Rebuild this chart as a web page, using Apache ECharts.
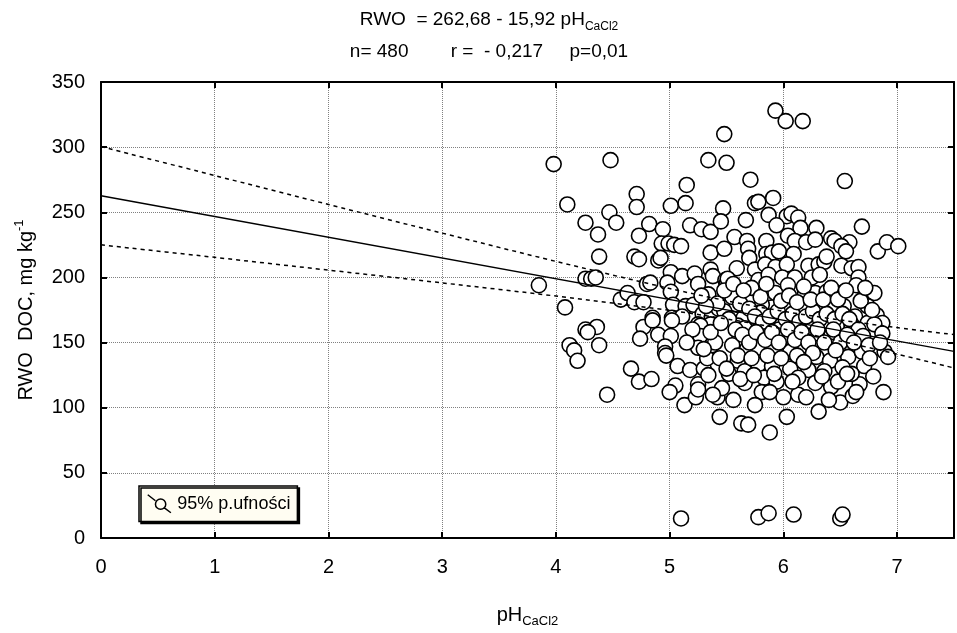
<!DOCTYPE html>
<html>
<head>
<meta charset="utf-8">
<script src="https://cdn.jsdelivr.net/npm/echarts@6/dist/echarts.min.js"></script>
<style>
  html, body { margin: 0; padding: 0; background: #fff; }
  #chart { width: 957px; height: 633px; }
</style>
</head>
<body>
<div id="chart"></div>
<script>
// pH (CaCl2) of each sample
const phValues = [
  3.98, 4.48, 5.34, 5.48, 5.50, 5.15, 4.10, 4.71, 4.71, 5.01, 5.14, 5.47, 4.47, 4.26, 4.53, 4.37, 4.82, 4.94, 4.73, 5.18,
  5.28, 5.36, 5.45, 4.93, 4.99, 5.04, 5.10, 5.36, 5.48, 4.38, 4.69, 4.73, 4.90, 4.92, 4.26, 4.31, 4.35, 3.85, 4.80, 4.83,
  5.01, 5.11, 5.22, 5.36, 5.38, 5.49, 4.98, 5.01, 5.25, 5.34, 4.08, 4.57, 4.63, 4.69, 4.77, 5.03, 5.14, 5.21, 5.29, 5.37,
  5.43, 4.85, 5.02, 5.11, 4.26, 4.36, 4.77, 5.25, 5.36,
  4.28, 4.12, 4.16, 4.19, 4.38, 4.45, 4.66, 4.73, 4.84, 4.74, 4.90, 5.01, 4.96, 4.96, 4.97, 5.07, 5.05, 5.00, 5.13, 5.18,
  5.25, 5.23, 5.25, 5.30, 5.33, 5.27, 5.27, 5.25, 5.37, 5.44, 5.42, 5.44, 5.46, 5.10, 5.02, 4.85,
  5.93, 6.02, 6.17, 5.71, 6.54, 5.75, 5.78, 5.91, 5.67, 5.87, 6.03, 6.07, 6.13, 5.94, 6.15, 6.29, 6.69, 5.57, 5.68, 5.85,
  6.04, 6.10, 6.20, 6.28, 6.42, 6.45, 6.58, 6.51, 6.55, 6.83, 6.91, 7.01, 5.69, 5.70, 5.85, 5.90, 5.96, 6.09, 5.59, 5.75,
  5.84, 5.93, 6.03, 6.22, 6.31, 6.36, 6.38, 6.51, 6.60, 6.66, 6.66, 6.64, 6.80, 5.50, 5.51, 5.78, 5.87, 5.99, 6.10, 6.25,
  6.32, 5.72, 5.87, 5.93, 6.04, 6.19, 6.28, 6.38, 6.48, 6.53, 6.63, 6.74, 6.82, 6.87, 5.59, 5.81, 6.04, 6.17, 6.34, 6.44,
  5.48, 5.65, 5.80, 6.25, 6.39, 6.60, 6.74,
  5.60, 5.66, 5.80, 5.96, 6.11, 6.28, 6.42, 6.60, 6.80, 6.87, 6.89, 6.92, 5.61, 5.55, 5.68, 5.78, 5.90, 6.01, 6.06, 6.19,
  6.29, 6.41, 6.57, 6.69, 5.60, 5.78, 5.90, 6.06, 6.22, 6.52, 6.71, 5.52, 5.66, 5.83, 5.94, 6.13, 6.28, 6.42, 6.67, 6.79,
  6.88, 5.66, 5.81, 6.00, 6.13, 6.20, 6.50, 6.61, 5.75, 5.63, 5.69, 5.88, 6.03, 6.31, 5.78, 5.87, 6.09, 6.50, 6.52,
  5.55, 5.62, 5.70, 5.75, 5.82, 5.88, 5.95, 6.02, 6.08, 6.14, 6.20, 6.26, 6.32, 6.38, 6.45, 6.52, 6.58, 6.66, 6.70, 5.52,
  5.58, 5.64, 5.70, 5.76, 5.84, 5.90, 5.96, 6.04, 6.10, 6.16, 6.22, 6.30, 6.36, 6.44, 6.50, 6.56, 6.62, 6.75, 6.85, 5.40,
  5.36, 5.45, 5.42, 5.48, 5.56, 5.65, 5.80, 5.85, 5.98, 6.05, 6.12, 6.18, 6.24, 6.35, 6.42, 6.48, 6.55, 6.68, 6.72, 6.78,
  5.60, 5.72, 5.86, 5.98, 6.12, 6.26, 6.36, 6.46, 6.60, 6.76, 5.50, 5.62, 5.74, 5.92, 6.08, 6.18, 6.34, 6.48, 6.64, 5.30,
  5.34, 5.38, 5.56, 5.88, 6.40, 6.56, 5.20, 5.15, 5.32, 5.28
];
// RWO DOC, mg/kg, same order as phValues
const docValues = [
  287, 290, 290, 310, 288, 271, 256, 264, 254, 255, 257, 253, 250, 242, 242, 233, 241, 237, 232, 240,
  237, 235, 243, 226, 226, 225, 224, 219, 222, 216, 216, 214, 213, 215, 199, 199, 200, 194, 195, 196,
  204, 201, 203, 206, 201, 198, 196, 189, 195, 187, 177, 183, 188, 181, 181, 179, 178, 179, 172, 170,
  176, 169, 169, 170, 160, 162, 162, 164, 164,
  158, 148, 144, 136, 148, 110, 130, 120, 122, 153, 156, 155, 147, 142, 140, 132, 117, 112, 102, 129,
  118, 108, 114, 130, 138, 163, 155, 146, 148, 138, 108, 93, 115, 15, 167, 167,
  328, 320, 320, 275, 274, 257, 258, 261, 244, 248, 247, 249, 246, 240, 238, 238, 239, 231, 228, 228,
  232, 228, 227, 229, 230, 228, 227, 224, 220, 220, 227, 224, 222, 215, 218, 219, 220, 218, 207, 206,
  210, 208, 210, 209, 210, 212, 216, 209, 207, 208, 200, 194, 188, 195, 199, 198, 202, 200, 200, 200,
  202, 192, 188, 188, 194, 188, 188, 189, 188, 178, 170, 178, 171, 165, 179, 179, 178, 179, 178, 178,
  174, 169, 173, 166, 166, 164, 165,
  163, 161, 163, 160, 164, 157, 155, 162, 164, 157, 143, 139, 152, 148, 145, 146, 144, 154, 143, 148,
  139, 136, 139, 143, 136, 133, 132, 130, 129, 131, 132, 126, 128, 123, 120, 123, 119, 116, 118, 124,
  112, 119, 112, 108, 110, 108, 104, 109, 102, 88, 87, 81, 93, 97, 16, 19, 18, 15, 18,
  185, 180, 176, 170, 166, 170, 174, 168, 172, 166, 170, 174, 168, 172, 168, 172, 168, 160, 155, 168,
  160, 156, 150, 158, 152, 158, 150, 160, 152, 158, 150, 160, 150, 160, 150, 156, 150, 148, 150, 150,
  158, 165, 180, 190, 195, 190, 185, 195, 182, 186, 181, 193, 183, 183, 192, 183, 190, 182, 192, 175,
  140, 138, 140, 138, 140, 142, 128, 144, 126, 138, 130, 122, 125, 126, 120, 135, 124, 120, 112, 145,
  125, 110, 106, 112, 106, 126, 160, 150, 178, 186
];

// fitted line RWO = 262,68 - 15,92 pH
const fitPh = [0, 7.5];
const fitDoc = [262.68, 143.28];

// 95% confidence band
const bandPh = [0, 1, 2, 3, 4, 5, 5.5, 6, 6.5, 7, 7.5];
const bandUpper = [300.4, 278.2, 256.0, 234.0, 212.3, 191.5, 182.1, 174.0, 167.3, 161.5, 156.1];
const bandLower = [225.0, 215.4, 205.6, 195.8, 185.7, 174.7, 168.1, 160.4, 151.1, 141.1, 130.5];

const xTicks = [0, 1, 2, 3, 4, 5, 6, 7];

const font = "'Liberation Sans', Arial, sans-serif";

const pairs = (xs, ys) => xs.map((x, i) => [x, ys[i]]);

const chart = echarts.init(document.getElementById('chart'));

const axisLine = { onZero: false, lineStyle: { color: '#000', width: 2 } };
const axisTick = { inside: true, length: 6, lineStyle: { color: '#000', width: 2 } };
const gridLine = { show: true, lineStyle: { type: 'dotted', color: '#808080', width: 1 } };

const option = {
  backgroundColor: '#fff',
  animation: false,
  title: [
    {
      text: '{a|RWO  = 262,68 - 15,92 pH}{s|CaCl2}',
      left: 484,
      top: 2,
      textAlign: 'center',
      textStyle: {
        rich: {
          a: { fontFamily: font, fontSize: 19, fontWeight: 'normal', color: '#000', lineHeight: 26 },
          s: { fontFamily: font, fontSize: 12, fontWeight: 'normal', color: '#000', lineHeight: 13, verticalAlign: 'bottom' }
        }
      }
    },
    {
      text: 'n= 480        r =  - 0,217     p=0,01',
      left: 484,
      top: 37,
      textAlign: 'center',
      textStyle: { fontFamily: font, fontSize: 19, fontWeight: 'normal', color: '#000' }
    }
  ],
  legend: {
    left: 139,
    top: 486,
    padding: [8, 7, 8, 8],
    backgroundColor: '#fffdf2',
    borderColor: '#000',
    borderWidth: 1.5,
    shadowColor: '#000',
    shadowBlur: 0,
    shadowOffsetX: 2,
    shadowOffsetY: 2,
    itemWidth: 26,
    itemHeight: 18,
    itemGap: 4,
    textStyle: { fontFamily: font, fontSize: 18, color: '#000' },
    data: [{
      name: '95% p.ufności',
      icon: 'path://M0,0 L9,7 M9,11 A6,6 0 1,0 21,11 A6,6 0 1,0 9,11 M19,15 L27,21',
      itemStyle: { color: 'rgba(0,0,0,0)', borderColor: '#000', borderWidth: 1.5 }
    }]
  },
  grid: { left: 101, right: 1, top: 82, bottom: 84 },
  xAxis: [
    {
      type: 'value', min: 0, max: 7.5, interval: 1, position: 'bottom',
      axisLine, axisTick,
      axisLabel: {
        color: '#000', fontFamily: font, fontSize: 20, margin: 19,
        formatter: v => (xTicks.includes(v) ? String(v) : '')
      },
      splitLine: gridLine,
      name: '{a|pH}{s|CaCl2}',
      nameLocation: 'middle',
      nameGap: 64,
      nameTextStyle: {
        rich: {
          a: { fontFamily: font, fontSize: 20, color: '#000', lineHeight: 26 },
          s: { fontFamily: font, fontSize: 13, color: '#000', lineHeight: 14, verticalAlign: 'bottom' }
        }
      }
    },
    {
      type: 'value', min: 0, max: 7.5, interval: 1, position: 'top',
      axisLine, axisTick, axisLabel: { show: false }, splitLine: { show: false }
    }
  ],
  yAxis: [
    {
      type: 'value', min: 0, max: 350, interval: 50, position: 'left',
      axisLine, axisTick,
      axisLabel: { color: '#000', fontFamily: font, fontSize: 20, margin: 16 },
      splitLine: gridLine,
      name: '{a|RWO  DOC, mg kg}{p|-1}',
      nameLocation: 'middle',
      nameRotate: 90,
      nameGap: 62,
      nameTextStyle: {
        rich: {
          a: { fontFamily: font, fontSize: 20, color: '#000', lineHeight: 26 },
          p: { fontFamily: font, fontSize: 13, color: '#000', lineHeight: 14, verticalAlign: 'top' }
        }
      }
    },
    {
      type: 'value', min: 0, max: 350, interval: 50, position: 'right',
      axisLine, axisTick, axisLabel: { show: false }, splitLine: { show: false }
    }
  ],
  series: [
    {
      name: '95% p.ufności',
      type: 'scatter',
      data: pairs(phValues, docValues),
      symbol: 'circle',
      symbolSize: 15,
      itemStyle: { color: '#fff', borderColor: '#000', borderWidth: 1.6, opacity: 1 },
      z: 2
    },
    {
      name: 'fit',
      type: 'line',
      data: pairs(fitPh, fitDoc),
      showSymbol: false,
      lineStyle: { color: '#000', width: 1.4 },
      z: 3
    },
    {
      name: 'upper',
      type: 'line',
      data: pairs(bandPh, bandUpper),
      smooth: 0.3,
      showSymbol: false,
      lineStyle: { color: '#000', width: 1.5, type: [4, 4] },
      z: 3
    },
    {
      name: 'lower',
      type: 'line',
      data: pairs(bandPh, bandLower),
      smooth: 0.3,
      showSymbol: false,
      lineStyle: { color: '#000', width: 1.5, type: [4, 4] },
      z: 3
    }
  ]
};

chart.setOption(option);
</script>
</body>
</html>
